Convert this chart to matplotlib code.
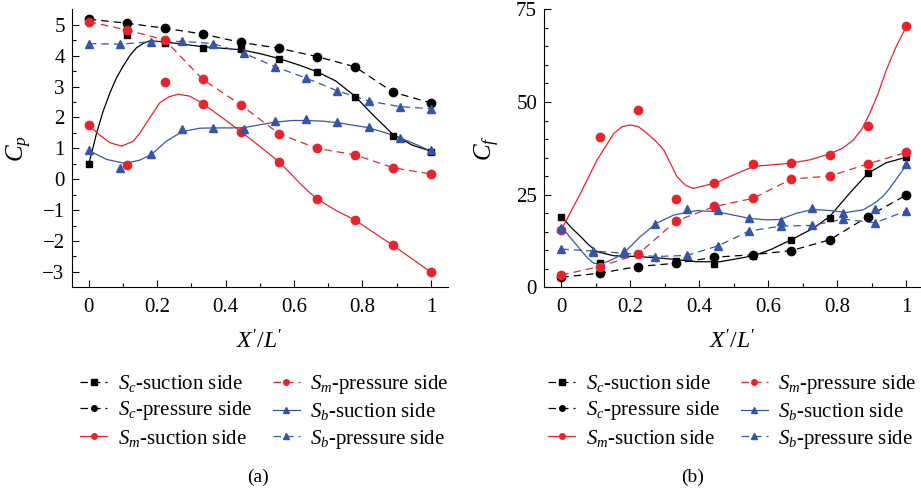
import matplotlib
matplotlib.use("Agg")
import matplotlib.pyplot as plt
from matplotlib.lines import Line2D

plt.rcParams['font.family'] = ['Liberation Serif', 'DejaVu Serif']
plt.rcParams['mathtext.fontset'] = 'custom'
plt.rcParams['mathtext.rm'] = 'Liberation Serif'
plt.rcParams['mathtext.it'] = 'Liberation Serif:italic'
plt.rcParams['font.size'] = 14

# marker positions along X'/L'
x10 = [0, 0.111, 0.222, 0.333, 0.444, 0.556, 0.667, 0.778, 0.889, 1]
x12 = [0, 0.091, 0.182, 0.273, 0.364, 0.455, 0.545, 0.636, 0.727, 0.818, 0.909, 1]

# (a) pressure coefficient Cp
cp_sc_suc = [0.50, 4.68, 4.40, 4.26, 4.21, 3.89, 3.47, 2.66, 1.40, 0.88]
cp_sc_pre = [5.18, 5.05, 4.89, 4.70, 4.43, 4.24, 3.97, 3.64, 2.82, 2.47]
cp_sm_suc = [1.75, 0.45, 3.14, 2.45, 1.54, 0.57, -0.63, -1.32, -2.14, -3.01]
cp_sm_pre = [5.10, 4.83, 4.51, 3.23, 2.41, 1.47, 1.00, 0.79, 0.37, 0.17]
cp_sb_suc = [0.93, 0.37, 0.80, 1.61, 1.67, 1.63, 1.87, 1.94, 1.85, 1.70, 1.34, 0.93]
cp_sb_pre = [4.39, 4.37, 4.45, 4.46, 4.39, 4.07, 3.64, 3.27, 2.86, 2.53, 2.35, 2.28]

# fitted curves (solid)
cp_sc_fit_x = [0, 0.012, 0.023, 0.042, 0.062, 0.081, 0.101, 0.120, 0.140, 0.160, 0.179,
               0.217, 0.275, 0.333, 0.445, 0.499, 0.555, 0.616, 0.667, 0.722, 0.778,
               0.829, 0.889, 0.946, 1]
cp_sc_fit_y = [0.50, 1.00, 1.50, 2.20, 2.80, 3.28, 3.67, 4.00, 4.26, 4.40, 4.48,
               4.45, 4.37, 4.29, 4.19, 4.07, 3.91, 3.69, 3.48, 3.18, 2.69,
               2.10, 1.45, 1.10, 0.91]
cp_sm_fit_x = [0, 0.033, 0.062, 0.096, 0.130, 0.150, 0.169, 0.190, 0.208, 0.235, 0.261,
               0.295, 0.333, 0.383, 0.445, 0.499, 0.555, 0.585, 0.616, 0.642, 0.667,
               0.722, 0.778, 0.889, 1]
cp_sm_fit_y = [1.75, 1.42, 1.18, 1.07, 1.23, 1.50, 1.83, 2.18, 2.48, 2.67, 2.75,
               2.69, 2.45, 2.05, 1.54, 1.07, 0.57, 0.24, -0.12, -0.40, -0.63,
               -1.01, -1.32, -2.14, -3.01]
cp_sb_fit_x = [0, 0.052, 0.106, 0.150, 0.183, 0.227, 0.273, 0.324, 0.364, 0.412, 0.454,
               0.499, 0.546, 0.596, 0.637, 0.683, 0.728, 0.771, 0.817, 0.868, 0.910, 0.955, 1]
cp_sb_fit_y = [0.93, 0.64, 0.51, 0.62, 0.80, 1.23, 1.54, 1.65, 1.66, 1.66, 1.67,
               1.76, 1.85, 1.90, 1.90, 1.88, 1.83, 1.75, 1.67, 1.50, 1.34, 1.13, 0.91]

# (b) friction coefficient Cf
cf_sc_suc = [19.0, 6.65, 9.0, 7.2, 6.4, 8.5, 12.7, 18.6, 30.9, 35.1]
cf_sc_pre = [2.7, 3.8, 5.6, 6.5, 8.1, 8.8, 9.9, 12.8, 19.1, 24.9]
cf_sm_suc = [15.5, 40.5, 47.8, 23.9, 28.2, 33.3, 33.5, 35.6, 43.4, 70.6]
cf_sm_pre = [3.3, 5.6, 8.9, 17.9, 21.8, 24.0, 29.2, 30.0, 33.3, 36.4]
cf_sb_suc = [16.1, 9.6, 9.9, 17.0, 21.0, 20.9, 18.8, 18.0, 21.5, 20.1, 21.0, 33.2]
cf_sb_pre = [10.3, 9.8, 9.2, 8.3, 8.6, 11.2, 15.2, 16.5, 16.7, 18.4, 17.4, 20.6]

cf_sc_fit_x = [0, 0.030, 0.056, 0.080, 0.104, 0.152, 0.220, 0.297, 0.393, 0.460, 0.557,
               0.610, 0.666, 0.730, 0.778, 0.836, 0.889, 0.942, 1]
cf_sc_fit_y = [19.1, 16.0, 13.7, 11.4, 9.6, 8.5, 8.3, 7.8, 6.9, 6.9, 8.5,
               10.3, 12.8, 15.9, 19.1, 25.4, 30.8, 33.6, 35.1]
cf_sm_fit_x = [0, 0.056, 0.104, 0.152, 0.176, 0.200, 0.224, 0.249, 0.273, 0.297, 0.316,
               0.335, 0.360, 0.383, 0.446, 0.499, 0.557, 0.666, 0.721, 0.778, 0.815,
               0.846, 0.870, 0.894, 0.918, 0.942, 0.970, 1]
cf_sm_fit_y = [15.5, 25.4, 34.4, 41.5, 43.3, 43.8, 43.3, 41.5, 39.5, 37.1, 33.5,
               29.9, 27.5, 26.7, 28.1, 30.3, 32.6, 33.5, 34.4, 36.0, 37.5,
               39.7, 42.5, 46.9, 52.2, 58.6, 64.8, 70.3]
cf_sb_fit_x = [0, 0.030, 0.056, 0.075, 0.094, 0.113, 0.133, 0.157, 0.181, 0.229, 0.277,
               0.326, 0.393, 0.451, 0.545, 0.595, 0.634, 0.682, 0.730, 0.778, 0.827,
               0.875, 0.908, 0.932, 0.952, 0.976, 1]
cf_sb_fit_y = [16.4, 13.0, 10.1, 8.0, 6.5, 6.3, 6.9, 7.9, 9.2, 13.7, 17.3,
               19.5, 20.7, 20.4, 18.6, 18.2, 18.3, 20.0, 21.0, 20.7, 20.2,
               20.9, 22.7, 24.5, 26.7, 29.8, 33.0]

labels = ['$S_c$-suction side', '$S_c$-pressure side', '$S_m$-suction side',
          '$S_m$-pressure side', '$S_b$-suction side', '$S_b$-pressure side']

red = '#e8232b'
blue = '#3556a8'
lw = 0.9
dash = (0, (6, 4))


def draw(ax, d, fits):
    sc_suc, sc_pre, sm_suc, sm_pre, sb_suc, sb_pre = d
    (scx, scy), (smx, smy), (sbx, sby) = fits
    # solid fitted curves
    ax.plot(scx, scy, color='k', lw=lw)
    ax.plot(smx, smy, color=red, lw=lw)
    ax.plot(sbx, sby, color=blue, lw=lw)
    # dashed lines
    ax.plot(x10, sc_pre, color='k', lw=lw, ls=dash)
    ax.plot(x10, sm_pre, color=red, lw=lw, ls=dash)
    ax.plot(x12, sb_pre, color=blue, lw=lw, ls=dash)
    # markers
    ax.plot(x10, sc_suc, 's', color='k', ms=5, zorder=3)
    ax.plot(x10, sc_pre, 'o', color='k', ms=6, zorder=3)
    ax.plot(x10, sm_suc, 'o', color=red, ms=6, zorder=3)
    ax.plot(x10, sm_pre, 'o', color=red, ms=6, zorder=3)
    ax.plot(x12, sb_suc, '^', color=blue, ms=6, zorder=3)
    ax.plot(x12, sb_pre, '^', color=blue, ms=6, zorder=3)
    for s in ['top', 'right']:
        ax.spines[s].set_visible(False)
    ax.spines['left'].set_linewidth(0.8)
    ax.spines['bottom'].set_linewidth(0.8)
    ax.tick_params(which='both', direction='in', width=0.8, labelsize=15, pad=5)
    ax.tick_params(axis='x', which='both', pad=8)
    ax.tick_params(which='major', length=5)
    ax.tick_params(which='minor', length=3)
    ax.set_xticks([0, 0.2, 0.4, 0.6, 0.8, 1])
    ax.set_xticklabels(['0', '0.2', '0.4', '0.6', '0.8', '1'])
    ax.set_xticks([0.1, 0.3, 0.5, 0.7, 0.9], minor=True)
    ax.set_xlabel("$X'/L'$", fontsize=17, labelpad=9)


def legend(fig, cx):
    handles = [
        Line2D([], [], color='k', lw=lw, ls=dash, marker='s', ms=4),
        Line2D([], [], color='k', lw=lw, ls=dash, marker='o', ms=4),
        Line2D([], [], color=red, lw=lw, marker='o', ms=4),
        Line2D([], [], color=red, lw=lw, ls=dash, marker='o', ms=4),
        Line2D([], [], color=blue, lw=lw, marker='^', ms=4),
        Line2D([], [], color=blue, lw=lw, ls=dash, marker='^', ms=4),
    ]
    fig.legend(handles, labels, loc='center', bbox_to_anchor=(cx, 0.168), ncol=2,
               frameon=False, fontsize=15, handlelength=1.3, handletextpad=0.5,
               columnspacing=1.0, labelspacing=0.25, numpoints=1)


fig = plt.figure(figsize=(9.21, 4.95), dpi=100)
ax1 = fig.add_axes([0.0778, 0.4196, 0.4086, 0.5616])
ax2 = fig.add_axes([0.5907, 0.4196, 0.4083, 0.5616])

draw(ax1, [cp_sc_suc, cp_sc_pre, cp_sm_suc, cp_sm_pre, cp_sb_suc, cp_sb_pre],
     [(cp_sc_fit_x, cp_sc_fit_y), (cp_sm_fit_x, cp_sm_fit_y), (cp_sb_fit_x, cp_sb_fit_y)])
ax1.set_xlim(-0.05, 1.05)
ax1.set_ylim(-3.5, 5.5)
ax1.set_yticks(range(-3, 6))
ax1.set_yticklabels(['\u22123', '\u22122', '\u22121', '0', '1', '2', '3', '4', '5'])
ax1.set_yticks([-2.5, -1.5, -0.5, 0.5, 1.5, 2.5, 3.5, 4.5], minor=True)
ax1.set_ylabel('$C_p$', fontsize=18, labelpad=6)

draw(ax2, [cf_sc_suc, cf_sc_pre, cf_sm_suc, cf_sm_pre, cf_sb_suc, cf_sb_pre],
     [(cf_sc_fit_x, cf_sc_fit_y), (cf_sm_fit_x, cf_sm_fit_y), (cf_sb_fit_x, cf_sb_fit_y)])
ax2.set_xlim(-0.05, 1.04)
ax2.set_ylim(0, 75)
ax2.set_yticks([0, 25, 50, 75])
ax2.set_yticks([5, 10, 15, 20, 30, 35, 40, 45, 55, 60, 65, 70], minor=True)
ax2.set_ylabel('$C_f$', fontsize=18, labelpad=10)

legend(fig, 0.287)
legend(fig, 0.795)

fig.text(0.280, 0.036, '(a)', ha='center', va='center', fontsize=14)
fig.text(0.752, 0.036, '(b)', ha='center', va='center', fontsize=14)

fig.savefig('out.png', dpi=100)
